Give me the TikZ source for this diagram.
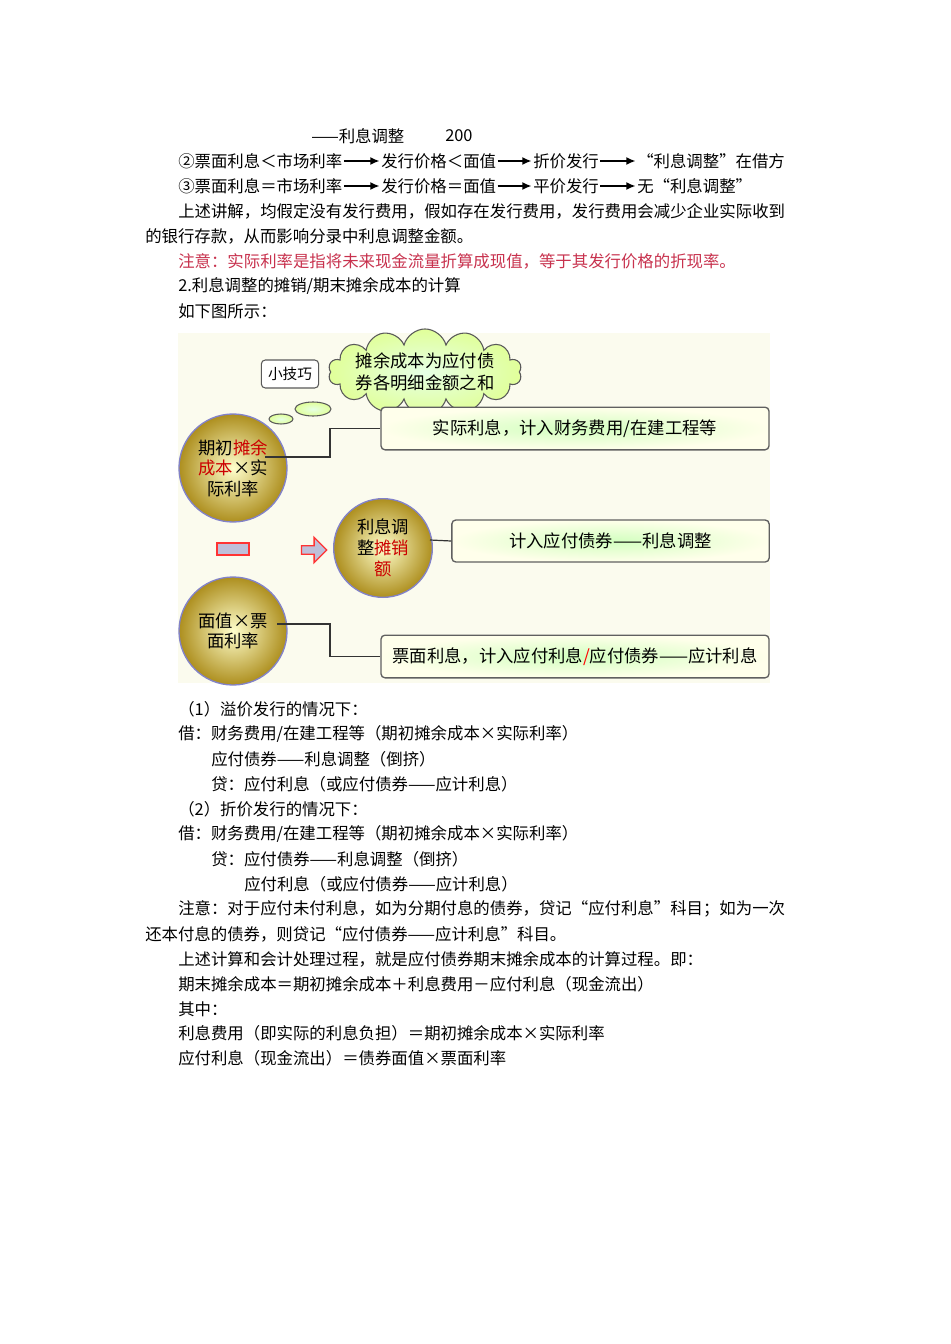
\documentclass[tikz,border=0pt]{standalone}
\usepackage{fontspec}
\setmainfont{Noto Sans CJK SC}
\usetikzlibrary{shapes.symbols,shapes.arrows,arrows.meta}
\definecolor{notered}{HTML}{C8324E}
\definecolor{bgc}{HTML}{FBFBEE}
\tikzset{
 tx/.style={anchor=west,inner sep=0pt,font=\fontsize{12.3pt}{14pt}\selectfont},
 ar/.style={-{Latex[length=7pt,width=6pt]},line width=1.6pt,shorten <=1pt,shorten >=1pt},
 ball/.style={circle,draw=blue!40!gray!70,line width=1pt,inner sep=0pt,inner color=yellow!20!white,outer color=brown!60!yellow!80!black,align=center,font=\fontsize{13pt}{15.5pt}\selectfont},
 tbox/.style={draw=gray!75!black,line width=1pt,rounded corners=3pt,inner color=yellow!30!green!25!white,outer color=yellow!8!white,font=\fontsize{13pt}{15pt}\selectfont},
 bub/.style={draw=gray!70!black,line width=0.8pt,inner color=green!10!white,outer color=green!30!yellow!40!white},
 conn/.style={line width=0.9pt,black!80}
}
\begin{document}
\begin{tikzpicture}[x=0.75pt,y=-0.75pt]
\useasboundingbox (0,0) rectangle (950,1344);
\fill[white] (0,0) rectangle (950,1344);
% top text
\node[tx] (t0) at (311,136) {——利息调整};
\node[tx] (t0b) at (445,136) {200};
\node[tx] (a1) at (178,161) {②票面利息＜市场利率};
\node[tx] (a2) at (381,161) {发行价格＜面值};
\node[tx] (a3) at (533,161) {折价发行};
\node[tx] (a4) at (637,161) {“利息调整”在借方};
\draw[ar] (a1.east) -- (a2.west);
\draw[ar] (a2.east) -- (a3.west);
\draw[ar] (a3.east) -- (a4.west);
\node[tx] (b1) at (178,186) {③票面利息＝市场利率};
\node[tx] (b2) at (381,186) {发行价格＝面值};
\node[tx] (b3) at (533,186) {平价发行};
\node[tx] (b4) at (637,186) {无“利息调整”};
\draw[ar] (b1.east) -- (b2.west);
\draw[ar] (b2.east) -- (b3.west);
\draw[ar] (b3.east) -- (b4.west);
\node[tx] (l1) at (178,211) {上述讲解，均假定没有发行费用，假如存在发行费用，发行费用会减少企业实际收到};
\node[tx] (l2) at (145,236) {的银行存款，从而影响分录中利息调整金额。};
\node[tx,text=notered] (l3) at (178,261) {注意：实际利率是指将未来现金流量折算成现值，等于其发行价格的折现率。};
\node[tx] (l4) at (178,286) {2.利息调整的摊销/期末摊余成本的计算};
\node[tx] (l5) at (178,311) {如下图所示：};
% diagram
\fill[bgc] (178,333) rectangle (770,683);
\node[cloud,cloud puffs=14,aspect=3.2,bub,inner sep=-4pt,minimum width=145pt,minimum height=50pt,font=\fontsize{13pt}{17pt}\selectfont,align=center] (cl) at (425,372) {摊余成本为应付债\\券各明细金额之和};
\node[draw=gray!70!black,fill=white,rounded corners=3pt,line width=0.8pt,minimum width=43pt,minimum height=21pt,font=\fontsize{11pt}{13pt}\selectfont] (tip) at (290,374) {小技巧};
\draw[bub] (313,409) ellipse [x radius=18,y radius=7];
\draw[bub] (281,419) ellipse [x radius=12,y radius=5];
\draw[gray!70!black,line width=0.8pt,fill=white] (257,428) ellipse [x radius=6,y radius=3];
\node[ball,minimum size=81pt] (c1) at (233,468) {期初\textcolor{red!80!black}{摊余}\\\textcolor{red!80!black}{成本}×实\\际利率};
\node[ball,minimum size=74pt] (c2) at (383,548) {利息调\\整\textcolor{red!80!black}{摊销}\\\textcolor{red!80!black}{额}};
\node[ball,minimum size=81pt] (c3) at (233,631) {面值×票\\面利率};
\node[tbox,minimum width=291pt,minimum height=32pt] (r1) at (575,428.5) {实际利息，计入财务费用/在建工程等};
\node[tbox,minimum width=238pt,minimum height=31.5pt] (r2) at (610.5,541) {计入应付债券——利息调整};
\node[tbox,minimum width=291pt,minimum height=32pt] (r3) at (575,656.5) {票面利息，计入应付利息\textcolor{red}{/}应付债券——应计利息};
\coordinate (k1) at (265,457);
\coordinate (k3) at (277,624);
\draw[conn] (k1) -- (330,457) |- (r1.west);
\draw[conn] (k3) -- (330,624) |- (r3.west);
\coordinate (k2) at (430,540);
\draw[conn] (k2) -- (r2.west);
\node[draw=red!80,line width=1pt,fill=blue!25!gray!40,minimum width=24pt,minimum height=9pt,inner sep=0pt] (minus) at (233,549) {};
\node[single arrow,draw=red!80,line width=1pt,fill=blue!25!gray!40,minimum height=19pt,minimum width=19pt,single arrow head extend=3pt,inner sep=1pt] (arr) at (312,550) {};
% lower text
\node[tx] (m1) at (178,709) {（1）溢价发行的情况下：};
\node[tx] (m2) at (178,734) {借：财务费用/在建工程等（期初摊余成本×实际利率）};
\node[tx] (m3) at (211,759) {应付债券——利息调整（倒挤）};
\node[tx] (m4) at (211,784) {贷：应付利息（或应付债券——应计利息）};
\node[tx] (m5) at (178,809) {（2）折价发行的情况下：};
\node[tx] (m6) at (178,834) {借：财务费用/在建工程等（期初摊余成本×实际利率）};
\node[tx] (m7) at (211,859) {贷：应付债券——利息调整（倒挤）};
\node[tx] (m8) at (244,884) {应付利息（或应付债券——应计利息）};
\node[tx] (m9) at (178,909) {注意：对于应付未付利息，如为分期付息的债券，贷记“应付利息”科目；如为一次};
\node[tx] (m10) at (145,934) {还本付息的债券，则贷记“应付债券——应计利息”科目。};
\node[tx] (m11) at (178,959) {上述计算和会计处理过程，就是应付债券期末摊余成本的计算过程。即：};
\node[tx] (m12) at (178,984) {期末摊余成本＝期初摊余成本＋利息费用－应付利息（现金流出）};
\node[tx] (m13) at (178,1009) {其中：};
\node[tx] (m14) at (178,1033) {利息费用（即实际的利息负担）＝期初摊余成本×实际利率};
\node[tx] (m15) at (178,1058) {应付利息（现金流出）＝债券面值×票面利率};
\end{tikzpicture}
\end{document}
